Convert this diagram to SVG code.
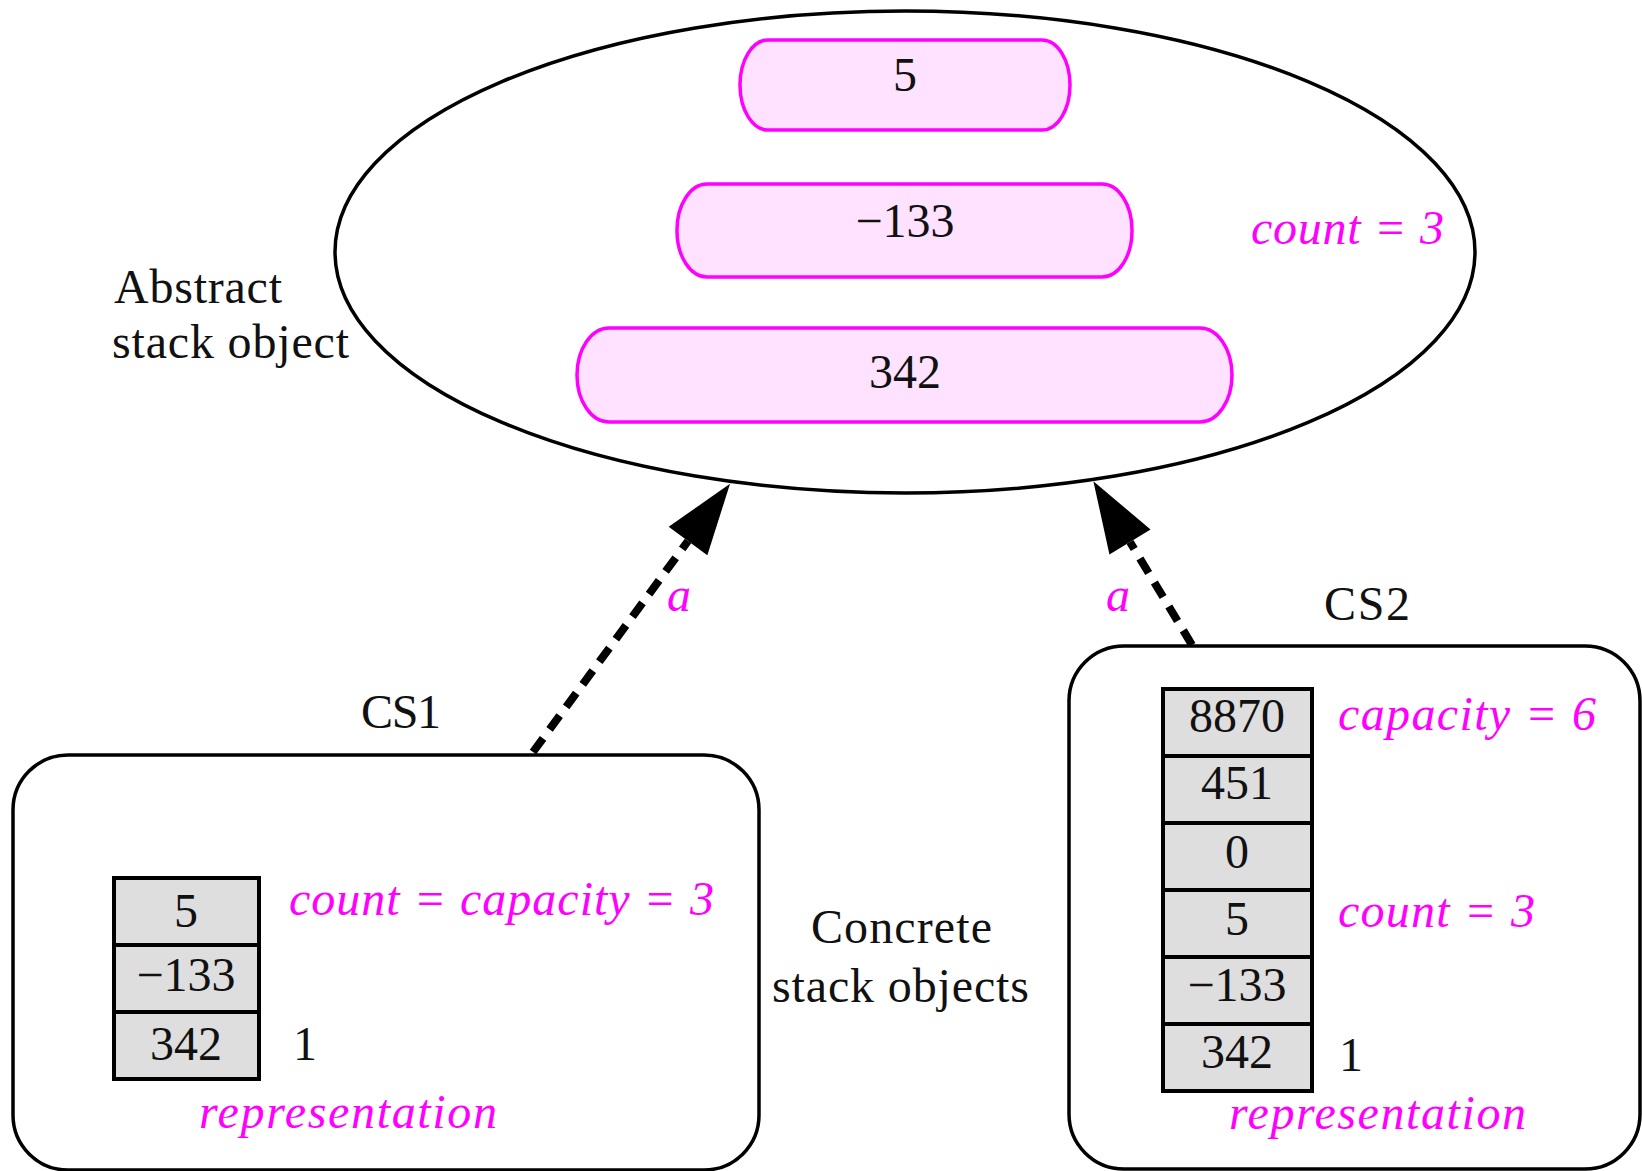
<svg xmlns="http://www.w3.org/2000/svg" width="1642" height="1171" viewBox="0 0 1642 1171">
<defs>
<style>
text{font-family:"Liberation Serif","Times New Roman",serif;font-size:48px;fill:#111}
.c{text-anchor:middle}
.m{fill:#ff00ff;font-style:italic}
.pill{fill:#ffe2ff;stroke:#ff00ff;stroke-width:3.5}
.box{fill:none;stroke:#000;stroke-width:3.5}
.cell{fill:#dedede;stroke:#000;stroke-width:4}
.conn{fill:none;stroke:#000;stroke-width:8;stroke-dasharray:17 11}
</style>
<marker id="ah" markerUnits="userSpaceOnUse" markerWidth="72" markerHeight="48" refX="0" refY="24" orient="auto" overflow="visible">
<path d="M0,0 L71,24 L0,48 z" fill="#000"/>
</marker>
</defs>
<rect width="1642" height="1171" fill="#fff"/>

<g id="abstract">
<ellipse cx="905" cy="252" rx="570" ry="241" class="box"/>
<rect class="pill" x="740" y="40" width="330" height="90" rx="28" ry="45"/>
<text class="c" x="905" y="91">5</text>
<rect class="pill" x="677" y="184" width="455" height="93" rx="30" ry="46"/>
<text class="c" x="905" y="237">−133</text>
<rect class="pill" x="577" y="328" width="655" height="94" rx="32" ry="47"/>
<text class="c" x="905" y="388">342</text>
<text class="m" x="1251" y="244" textLength="193" lengthAdjust="spacing">count = 3</text>
<text x="114" y="303" textLength="168" lengthAdjust="spacing">Abstract</text>
<text x="112" y="358" textLength="237" lengthAdjust="spacing">stack object</text>
</g>

<g id="connectors">
<line class="conn" x1="533" y1="752" x2="688" y2="541" marker-end="url(#ah)"/>
<line class="conn" x1="1192" y1="645" x2="1130" y2="542" marker-end="url(#ah)"/>
<text class="m" x="667" y="611">a</text>
<text class="m" x="1106" y="611">a</text>
</g>

<g id="cs1">
<text x="361" y="728" textLength="80" lengthAdjust="spacing">CS1</text>
<rect class="box" x="13" y="755" width="746" height="415" rx="55" ry="55"/>
<rect class="cell" x="114" y="878" width="145" height="67"/>
<rect class="cell" x="114" y="945" width="145" height="67"/>
<rect class="cell" x="114" y="1012" width="145" height="67"/>
<text class="c" x="186" y="927">5</text>
<text class="c" x="186" y="991">−133</text>
<text class="c" x="186" y="1060">342</text>
<text class="m" x="289" y="915" textLength="425" lengthAdjust="spacing">count = capacity = 3</text>
<text x="293" y="1060">1</text>
<text class="m" x="199" y="1128" textLength="298" lengthAdjust="spacing">representation</text>
</g>

<g id="concrete-label">
<text x="811" y="943" textLength="181" lengthAdjust="spacing">Concrete</text>
<text x="772" y="1002" textLength="257" lengthAdjust="spacing">stack objects</text>
</g>

<g id="cs2">
<text x="1324" y="620" textLength="86" lengthAdjust="spacing">CS2</text>
<rect class="box" x="1069" y="646" width="571" height="523" rx="55" ry="55"/>
<rect class="cell" x="1163" y="689" width="149" height="67"/>
<rect class="cell" x="1163" y="756" width="149" height="67"/>
<rect class="cell" x="1163" y="823" width="149" height="67"/>
<rect class="cell" x="1163" y="890" width="149" height="67"/>
<rect class="cell" x="1163" y="957" width="149" height="67"/>
<rect class="cell" x="1163" y="1024" width="149" height="67"/>
<text class="c" x="1237" y="732">8870</text>
<text class="c" x="1237" y="799">451</text>
<text class="c" x="1237" y="868">0</text>
<text class="c" x="1237" y="935">5</text>
<text class="c" x="1237" y="1001">−133</text>
<text class="c" x="1237" y="1068">342</text>
<text class="m" x="1338" y="730" textLength="258" lengthAdjust="spacing">capacity = 6</text>
<text class="m" x="1338" y="927" textLength="197" lengthAdjust="spacing">count = 3</text>
<text x="1339" y="1071">1</text>
<text class="m" x="1229" y="1129" textLength="297" lengthAdjust="spacing">representation</text>
</g>
</svg>
